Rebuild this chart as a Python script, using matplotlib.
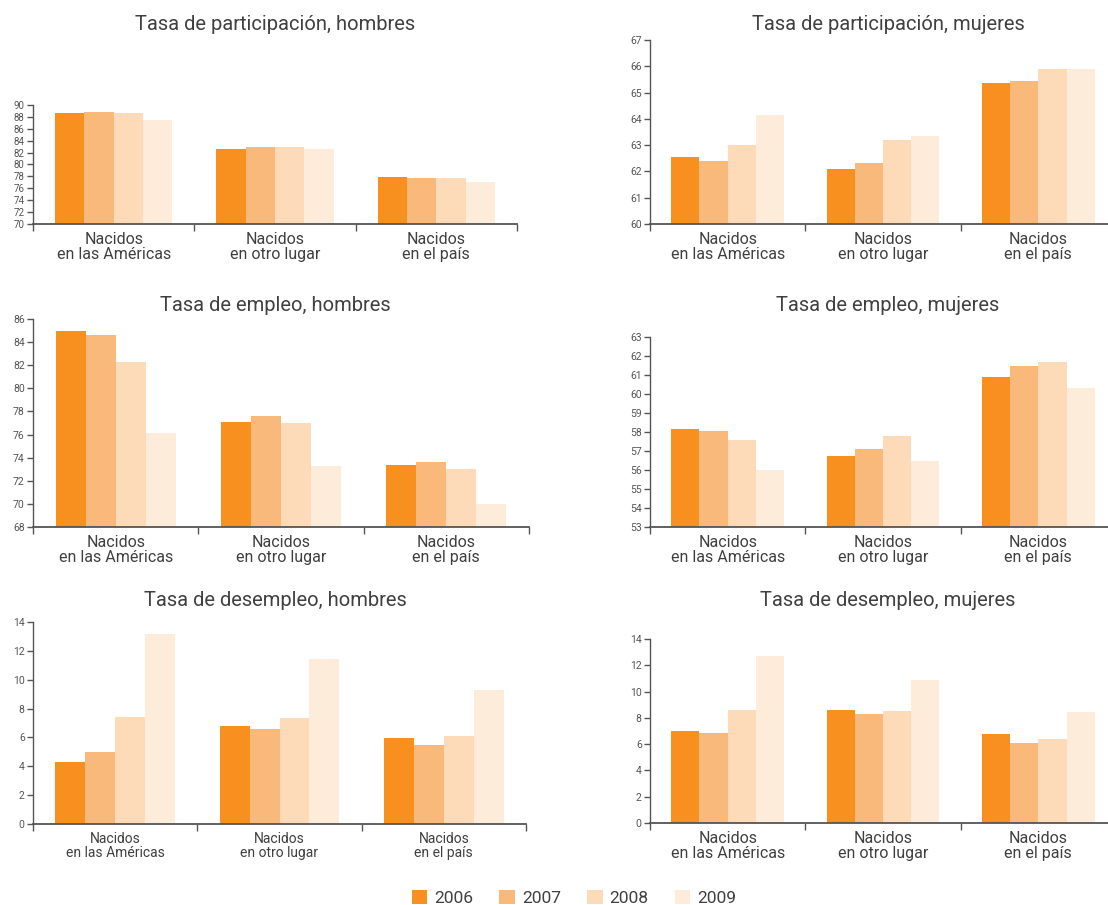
import matplotlib
matplotlib.use("Agg")
import matplotlib.pyplot as plt
import numpy as np

plt.rcParams['font.family'] = ['Roboto', 'DejaVu Sans']

years = ["2006", "2007", "2008", "2009"]
colors = ["#F7901E", "#F9B97A", "#FDDBB8", "#FEECDB"]
categories = ["Nacidos\nen las Américas", "Nacidos\nen otro lugar", "Nacidos\nen el país"]

titles = ["Tasa de participación, hombres", "Tasa de participación, mujeres",
          "Tasa de empleo, hombres", "Tasa de empleo, mujeres",
          "Tasa de desempleo, hombres", "Tasa de desempleo, mujeres"]

# values: rows = categories, columns = years
part_hombres = [[88.6, 88.9, 88.7, 87.5],
                [82.6, 82.9, 82.9, 82.6],
                [77.9, 77.7, 77.7, 77.1]]
part_mujeres = [[62.54, 62.38, 63.0, 64.15],
                [62.11, 62.32, 63.19, 63.35],
                [65.35, 65.44, 65.9, 65.89]]
empleo_hombres = [[84.95, 84.65, 82.3, 76.1],
                  [77.1, 77.6, 77.0, 73.3],
                  [73.4, 73.6, 73.0, 70.0]]
empleo_mujeres = [[58.14, 58.05, 57.58, 56.0],
                  [56.73, 57.1, 57.79, 56.45],
                  [60.9, 61.45, 61.7, 60.32]]
desempleo_hombres = [[4.3, 4.97, 7.39, 13.17],
                     [6.81, 6.58, 7.37, 11.43],
                     [5.94, 5.45, 6.12, 9.31]]
desempleo_mujeres = [[7.01, 6.86, 8.58, 12.68],
                     [8.61, 8.30, 8.53, 10.86],
                     [6.78, 6.10, 6.38, 8.41]]

datasets = [part_hombres, part_mujeres, empleo_hombres, empleo_mujeres,
            desempleo_hombres, desempleo_mujeres]
yranges = [(70, 90, 2), (60, 67, 1), (68, 86, 2), (53, 63, 1), (0, 14, 2), (0, 14, 2)]

W, H = 1108, 905
# pixel boxes: left, right, top, bottom
boxes = [(33, 517, 105, 224), (650, 1116, 40, 224),
         (33, 529, 319, 527), (650, 1116, 337, 527),
         (33, 526, 622, 824), (650, 1116, 639, 823)]
title_pos = [(275, 25), (888, 25), (275, 305), (888, 305), (275, 600), (888, 600)]
ytick_size = [7, 7.5, 7.5, 7.5, 7.5, 7.5]
cat_size = [11.5, 11.5, 11.5, 11.5, 10, 11.5]

text_color = "#404040"
axis_color = "#555555"

fig = plt.figure(figsize=(W / 100, H / 100), dpi=100)

group_frac = 0.727
bw = group_frac / 4

for k, (data, (y0, y1, ystep), (l, r, t, b)) in enumerate(zip(datasets, yranges, boxes)):
    ax = fig.add_axes([l / W, 1 - b / H, (r - l) / W, (b - t) / H])
    arr = np.array(data)
    centers = np.arange(len(categories)) + 0.5
    for i in range(len(years)):
        ax.bar(centers + (i - 1.5) * bw, arr[:, i] - y0, bottom=y0, width=bw,
               color=colors[i], linewidth=0, zorder=2)
    ax.set_xlim(0, 3)
    ax.set_ylim(y0, y1)
    ticks = np.arange(y0, y1 + 0.001, ystep)
    ax.set_yticks(ticks)
    ax.set_yticklabels([str(int(v)) for v in ticks])
    ax.set_xticks([0, 1, 2, 3])
    ax.set_xticklabels([])
    ax.set_xticks(centers, minor=True)
    ax.set_xticklabels(categories, minor=True, fontsize=cat_size[k], color=text_color,
                       linespacing=1.0)
    ax.tick_params(axis='x', which='minor', length=0, pad=6)
    ax.tick_params(axis='x', which='major', length=5, width=1, color=axis_color, direction='out')
    ax.tick_params(axis='y', length=4, width=1, color=axis_color, direction='out',
                   labelsize=ytick_size[k], labelcolor="#555555", pad=2)
    for s in ['top', 'right']:
        ax.spines[s].set_visible(False)
    ax.spines['left'].set_color(axis_color)
    ax.spines['bottom'].set_color(axis_color)
    ax.spines['left'].set_linewidth(1)
    ax.spines['bottom'].set_linewidth(1.3)
    ax.spines['bottom'].set_zorder(3)
    tx, ty = title_pos[k]
    fig.text(tx / W, 1 - ty / H, titles[k], ha='center', va='center',
             fontsize=14.5, color=text_color)

# legend
from matplotlib.patches import Patch
handles = [Patch(facecolor=c, edgecolor='none') for c in colors]
fig.legend(handles, years, loc='center', bbox_to_anchor=(574 / W, 1 - 898 / H),
           ncol=4, frameon=False, handlelength=0.9, handleheight=0.9,
           handletextpad=0.4, columnspacing=1.5,
           labelcolor=text_color, prop={'size': 12.5})

fig.savefig("out.png", dpi=100)
